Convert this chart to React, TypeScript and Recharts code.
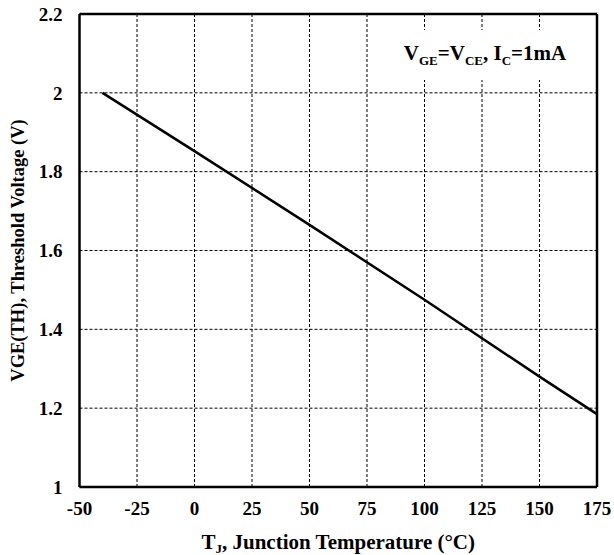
import React from "react";
import { LineChart, Line, XAxis, YAxis, CartesianGrid, ReferenceLine } from "recharts";

const temps = [-40, 0, 50, 100, 150, 175];
const vth = [2.0, 1.852, 1.665, 1.475, 1.28, 1.185];
const xTicks = [-50, -25, 0, 25, 50, 75, 100, 125, 150, 175];
const yTicks = [1, 1.2, 1.4, 1.6, 1.8, 2, 2.2];

const data = temps.map((t, i) => ({ t, v: vth[i] }));

const FONT = '"Liberation Serif", "Times New Roman", serif';
const tickStyle = { fontFamily: FONT, fontWeight: 700, fontSize: 19, fill: "#000" };

const YLabel = (props: any) => {
  const vb = props.viewBox || {};
  const cy = vb.y + vb.height / 2;
  const cx = 18;
  return (
    <text
      x={cx}
      y={cy}
      transform={`rotate(-90, ${cx}, ${cy})`}
      textAnchor="middle"
      dominantBaseline="central"
      style={{ fontFamily: FONT, fontWeight: 700, fontSize: 18.5, fill: "#000" }}
    >
      VGE(TH), Threshold Voltage (V)
    </text>
  );
};

const XLabel = (props: any) => {
  const vb = props.viewBox || {};
  const cx = vb.x + vb.width / 2;
  return (
    <text
      x={cx}
      y={549}
      textAnchor="middle"
      style={{ fontFamily: FONT, fontWeight: 700, fontSize: 21, fill: "#000" }}
    >
      T<tspan fontSize={13} dy={4}>J</tspan>
      <tspan dy={-4}>, Junction Temperature (°C)</tspan>
    </text>
  );
};

export default function App() {
  return (
    <div style={{ position: "absolute", left: 0, top: 0, width: 614, height: 555, background: "#fff" }}>
      <LineChart
        width={614}
        height={555}
        data={data}
        margin={{ top: 14, right: 17, bottom: 0, left: 0 }}
      >
        <CartesianGrid stroke="#000" strokeDasharray="3 2" strokeWidth={1} />
        <XAxis
          type="number"
          dataKey="t"
          domain={[-50, 175]}
          ticks={xTicks}
          interval={0}
          height={68}
          tickSize={0}
          tickMargin={15}
          tick={tickStyle}
          axisLine={{ stroke: "#000", strokeWidth: 2.5 }}
          tickLine={false}
          label={<XLabel />}
        />
        <YAxis
          type="number"
          domain={[1, 2.2]}
          ticks={yTicks}
          interval={0}
          width={79.5}
          tickSize={0}
          tickMargin={17}
          tick={tickStyle}
          axisLine={{ stroke: "#000", strokeWidth: 2.5 }}
          tickLine={false}
          label={<YLabel />}
        />
        <ReferenceLine y={2.2} stroke="#000" strokeWidth={2.5} />
        <ReferenceLine x={175} stroke="#000" strokeWidth={2.5} />
        <Line
          type="linear"
          dataKey="v"
          stroke="#000"
          strokeWidth={2.5}
          dot={false}
          isAnimationActive={false}
        />
      </LineChart>
      <div
        style={{
          position: "absolute",
          left: 382,
          top: 30,
          width: 206,
          height: 50,
          background: "#fff",
          display: "flex",
          alignItems: "center",
          justifyContent: "center",
          fontFamily: FONT,
          fontWeight: 700,
          fontSize: 21,
          color: "#000",
          whiteSpace: "nowrap",
        }}
      >
        <span>
          V<sub style={{ fontSize: 13 }}>GE</sub>=V<sub style={{ fontSize: 13 }}>CE</sub>,{" "}
          I<sub style={{ fontSize: 13 }}>C</sub>=1mA
        </span>
      </div>
    </div>
  );
}
